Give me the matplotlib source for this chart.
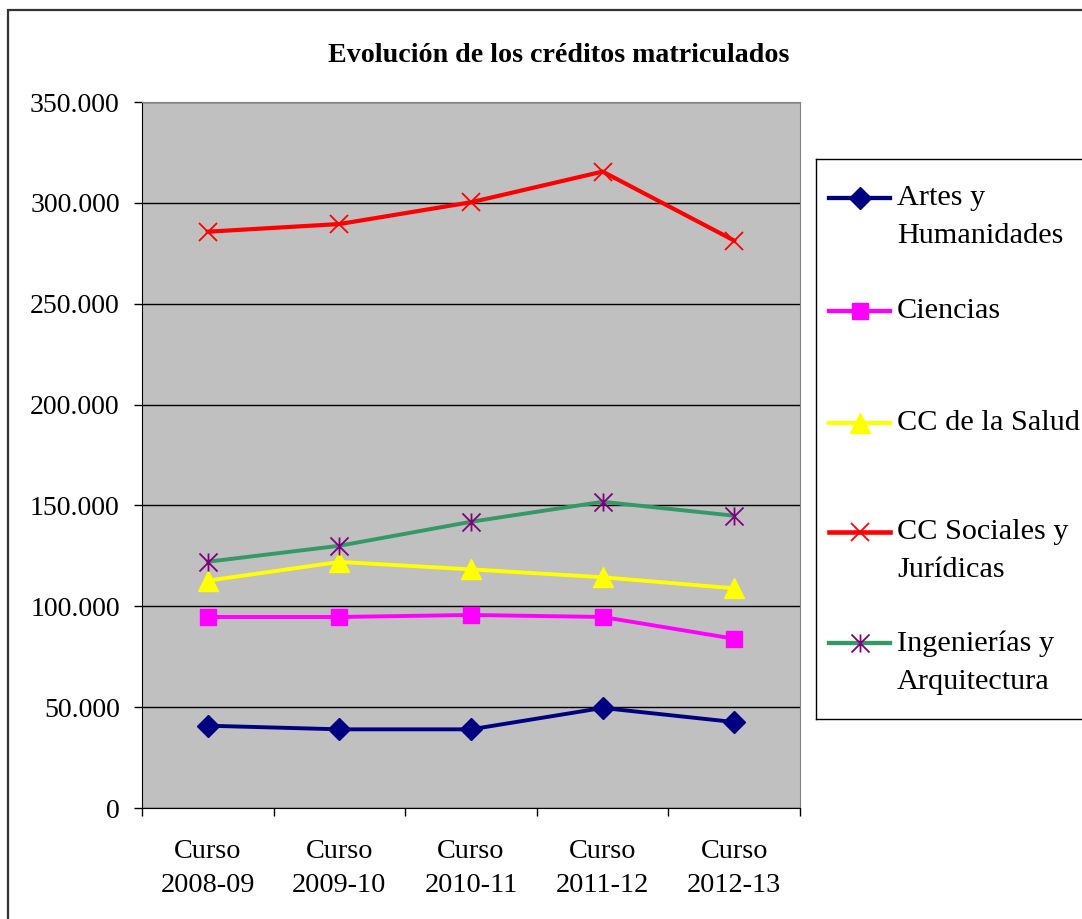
import matplotlib
matplotlib.use('Agg')
import matplotlib.pyplot as plt
from matplotlib.path import Path
from matplotlib.patches import Rectangle
from matplotlib.ticker import FuncFormatter, MultipleLocator

plt.rcParams['font.family'] = ['Liberation Serif', 'DejaVu Serif']

# datos
cursos = ['Curso\n2008-09', 'Curso\n2009-10', 'Curso\n2010-11', 'Curso\n2011-12', 'Curso\n2012-13']
artes = [40800, 39000, 39000, 49600, 42600]
ciencias = [94700, 94700, 95700, 94700, 83900]
salud = [112700, 122000, 118300, 114400, 108900]
sociales = [285700, 289500, 300300, 315500, 281300]
ingenierias = [122100, 130000, 141900, 151800, 144900]

nombres = ['Artes y\nHumanidades', 'Ciencias', 'CC de la Salud',
           'CC Sociales y\nJurídicas', 'Ingenierías y\nArquitectura']

# marcador asterisco tipo Excel (X + barra vertical)
asterisco = Path([(0, -1), (0, 1), (-1, -1), (1, 1), (-1, 1), (1, -1)],
                 [Path.MOVETO, Path.LINETO, Path.MOVETO, Path.LINETO,
                  Path.MOVETO, Path.LINETO])

estilos = [
    dict(color='#000080', marker='D', ms=11.5, mfc='#000080', mec='#000080', lw=2.8),
    dict(color='#FF00FF', marker='s', ms=12, mfc='#FF00FF', mec='#FF00FF', lw=2.8),
    dict(color='#FFFF00', marker='^', ms=15, mfc='#FFFF00', mec='#FFFF00', lw=2.8),
    dict(color='#FF0000', marker='x', ms=13, mfc='none', mec='#FF0000', mew=1.3, lw=3.0),
    dict(color='#339966', marker=asterisco, ms=13, mfc='none', mec='#800080', mew=1.3, lw=2.8),
]
series = [artes, ciencias, salud, sociales, ingenierias]

fig = plt.figure(figsize=(10.82, 9.19), dpi=100)

# marco exterior del grafico
fig.add_artist(Rectangle((8 / 1082, -0.1), 1.2, (919 - 10) / 919 + 0.1,
                         transform=fig.transFigure, fill=False,
                         ec='#333333', lw=1.6))

ax = fig.add_axes([142 / 1082, (919 - 808) / 919, 658 / 1082, 706 / 919])
ax.set_facecolor('#C0C0C0')

x = list(range(len(cursos)))
for vals, est in zip(series, estilos):
    ax.plot(x, vals, clip_on=False, **est)

ax.set_xlim(-0.5, 4.5)
ax.set_ylim(0, 350000)
ax.yaxis.set_major_locator(MultipleLocator(50000))
ax.yaxis.set_major_formatter(FuncFormatter(lambda v, p: f'{int(v):,}'.replace(',', '.')))
ax.grid(axis='y', color='black', lw=1)
ax.set_axisbelow(True)

ax.set_xticks(x)
ax.set_xticklabels(cursos, linespacing=1.47)
ax.set_xticks([i - 0.5 for i in range(len(cursos) + 1)], minor=True)
ax.tick_params(axis='x', which='major', length=0, pad=22.5, labelsize=20.3)
ax.tick_params(axis='x', which='minor', length=6, width=1, direction='out')
ax.tick_params(axis='y', length=6, width=1, direction='out', pad=10, labelsize=20)

for s in ['top', 'right']:
    ax.spines[s].set_color('#808080')
for s in ['left', 'bottom']:
    ax.spines[s].set_color('black')

fig.text(559 / 1082, 1 - 55 / 919, 'Evolución de los créditos matriculados',
         ha='center', va='center', fontsize=20.2, fontweight='bold')

# leyenda dibujada a mano (coordenadas en pixeles)
lax = fig.add_axes([816 / 1082, (919 - 719) / 919, 284 / 1082, 560 / 919])
lax.set_xlim(816, 1100)
lax.set_ylim(719, 159)
lax.set_xticks([])
lax.set_yticks([])
for s in lax.spines.values():
    s.set_color('black')
    s.set_linewidth(1)

filas = [198, 311, 423, 532, 643]
for fy, nombre, est in zip(filas, nombres, estilos):
    e = dict(est)
    lax.plot([829, 890], [fy, fy], color=e['color'], lw=e['lw'] + 0.3)
    lax.plot([859.5], [fy], ls='none', marker=e['marker'], ms=e['ms'],
             mfc=e['mfc'], mec=e['mec'], mew=e.get('mew', 1))
    lax.text(897, fy - 13, nombre, ha='left', va='top', fontsize=21.8,
             linespacing=1.6)

fig.savefig('out.png', dpi=100)
